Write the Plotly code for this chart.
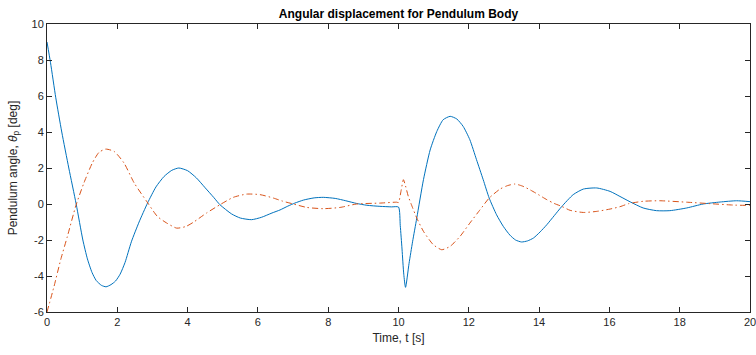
import plotly.graph_objects as go

# ---- data ----
t_blue = [0, 0.1, 0.25, 0.42, 0.62, 0.83, 1.02, 1.15, 1.28, 1.4, 1.55, 1.68, 1.82, 1.95, 2.08,
          2.22, 2.4, 2.62, 2.86, 3.1, 3.33, 3.55, 3.75, 4.0, 4.25, 4.5, 4.75, 4.92, 5.25, 5.5,
          5.82, 6.1, 6.4, 6.63, 6.85, 7.05, 7.3, 7.6, 7.86, 8.2, 8.5, 8.81, 9.1, 9.47, 9.8, 10.0,
          10.05, 10.1, 10.15, 10.2, 10.3, 10.4, 10.52, 10.71, 10.9, 11.09, 11.27, 11.47, 11.66,
          11.84, 12.03, 12.22, 12.41, 12.58, 12.79, 12.98, 13.17, 13.33, 13.5, 13.67, 13.84,
          14.03, 14.22, 14.43, 14.64, 14.97, 15.26, 15.64, 16.02, 16.3, 16.59, 16.96, 17.34,
          17.72, 18.2, 18.67, 19.15, 19.62, 20.0]
theta_blue = [9.0, 7.85, 5.9, 4.0, 2.0, 0.0, -2.0, -3.05, -3.8, -4.25, -4.52, -4.6, -4.48, -4.28,
              -3.9, -3.25, -2.1, -1.0, 0.05, 0.95, 1.53, 1.87, 2.0, 1.85, 1.45, 0.9, 0.35, -0.04,
              -0.55, -0.78, -0.87, -0.74, -0.5, -0.33, -0.12, 0.05, 0.22, 0.34, 0.37, 0.31, 0.18,
              0.03, -0.07, -0.13, -0.16, -0.17, -1.2, -2.5, -3.9, -4.63, -3.3, -2.1, -0.78, 1.35,
              3.0, 4.03, 4.68, 4.87, 4.72, 4.31, 3.57, 2.46, 1.35, 0.33, -0.6, -1.24, -1.73, -2.0,
              -2.11, -2.05, -1.89, -1.55, -1.15, -0.65, -0.15, 0.52, 0.83, 0.89, 0.7, 0.42, 0.12,
              -0.22, -0.37, -0.37, -0.22, 0.0, 0.11, 0.18, 0.13]

t_red = [0, 0.2, 0.39, 0.58, 0.82, 1.05, 1.29, 1.48, 1.67, 1.91, 2.19, 2.48, 2.87, 3.14, 3.4,
         3.69, 3.95, 4.16, 4.54, 4.92, 5.3, 5.68, 6.06, 6.44, 6.7, 7.01, 7.39, 7.86, 8.34, 8.81,
         9.47, 9.95, 10.0, 10.07, 10.14, 10.2, 10.28, 10.4, 10.52, 10.71, 10.99, 11.23, 11.47,
         11.75, 12.03, 12.32, 12.58, 12.89, 13.1, 13.31, 13.52, 13.74, 13.98, 14.22, 14.43,
         14.64, 14.88, 15.26, 15.64, 16.02, 16.3, 16.55, 16.96, 17.44, 18.2, 18.86, 19.53, 20.0]
theta_red = [-6.0, -4.58, -3.09, -1.8, -0.1, 1.17, 2.28, 2.87, 3.05, 2.92, 2.28, 1.17, 0.05,
             -0.69, -1.05, -1.34, -1.25, -1.02, -0.5, -0.04, 0.37, 0.55, 0.52, 0.33, 0.16, 0.0,
             -0.19, -0.26, -0.19, 0.0, 0.05, 0.1, 0.08, 0.7, 1.35, 1.0, 0.42, -0.2, -0.78,
             -1.52, -2.26, -2.54, -2.35, -1.8, -1.06, -0.32, 0.33, 0.83, 1.02, 1.11, 1.0, 0.79,
             0.52, 0.24, 0.03, -0.13, -0.35, -0.47, -0.41, -0.28, -0.15, 0.02, 0.15, 0.18, 0.1,
             0.02, -0.06, -0.08]

x_ticks = [0, 2, 4, 6, 8, 10, 12, 14, 16, 18, 20]
y_ticks = [-6, -4, -2, 0, 2, 4, 6, 8, 10]

title_text = "<b>Angular displacement for Pendulum Body</b>"
x_title = "Time, t [s]"
y_title = "Pendulum angle, <i>θ</i><sub>p</sub> [deg]"

FONT = "Liberation Sans, Arial, Helvetica, sans-serif"
AX = "#262626"

W, H = 756, 355

fig = go.Figure()
fig.add_trace(go.Scatter(x=t_blue, y=theta_blue, mode="lines",
                         line=dict(color="#0072BD", width=1, shape="spline", smoothing=0.6),
                         showlegend=False))
fig.add_trace(go.Scatter(x=t_red, y=theta_red, mode="lines",
                         line=dict(color="#D95319", width=1, shape="spline", smoothing=0.6,
                                   dash="6px,3px,1.5px,3px"),
                         showlegend=False))

axis_common = dict(showline=True, linecolor=AX, linewidth=1, mirror="ticks",
                   ticks="inside", ticklen=5, tickcolor=AX, tickwidth=1,
                   showgrid=False, zeroline=False, ticklabeloverflow="allow",
                   tickfont=dict(family=FONT, size=11, color=AX))

fig.update_xaxes(range=[0, 20], tickvals=x_ticks, ticktext=[str(v) for v in x_ticks],
                 title=dict(text=x_title, font=dict(family=FONT, size=12, color=AX), standoff=6),
                 **axis_common)
fig.update_yaxes(range=[-6, 10], tickvals=y_ticks, ticktext=[str(v) for v in y_ticks],
                 title=dict(text=y_title, font=dict(family=FONT, size=12, color=AX), standoff=11),
                 **axis_common)

fig.update_layout(
    width=W, height=H,
    margin=dict(l=47, r=6, t=24, b=43, autoexpand=False),
    paper_bgcolor="white", plot_bgcolor="white",
    title=dict(text=title_text, x=0.5, xref="paper", y=1 - 14 / H, yref="container",
               yanchor="middle", font=dict(family=FONT, size=12, color="#000000")),
    font=dict(family=FONT),
)

# remove the default 8px page margin so the figure fills the window exactly
fig.write_html("out.html",
               config={"displayModeBar": False},
               post_script="document.body.style.margin='0';document.body.style.overflow='hidden';")
